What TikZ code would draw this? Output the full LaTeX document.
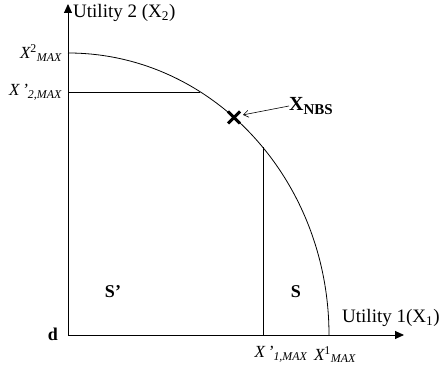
\documentclass[tikz,border=0pt]{standalone}
\usepackage{fontspec}
\setmainfont{Liberation Serif}
\usetikzlibrary{arrows.meta,calc}
\tikzset{
  axis/.style={line width=0.9pt,-{Triangle[length=9pt,width=8pt]}},
  thin line/.style={line width=0.8pt},
  lbl/.style={inner sep=0pt,font=\fontsize{19}{21}\selectfont},
  mlbl/.style={inner sep=0pt,font=\fontsize{17}{19}\selectfont\itshape},
  blbl/.style={inner sep=0pt,font=\fontsize{18}{20}\selectfont\bfseries},
  crossmark/.style={line width=3pt},
}
\begin{document}
\begin{tikzpicture}[x=1pt,y=1pt]
\useasboundingbox (0,0) rectangle (439,371);
% key points
\coordinate (O) at (68,36);
\coordinate (ytop) at (68,367);
\coordinate (xend) at (404,36);
\coordinate (ymax) at (68,318);
\coordinate (xmax) at (329,36);
\coordinate (y2) at (68,279);
\coordinate (y2c) at (200.4,279);
\coordinate (x1) at (263,36);
\coordinate (x1c) at (263,223.5);
\coordinate (nbs) at (234,253.6);
% axes
\draw[axis] (O) -- (ytop);
\draw[axis] (O) -- (xend);
% frontier
\draw[thin line] (ymax) arc[start angle=90,end angle=0,x radius=261,y radius=282];
% auxiliary lines
\draw[thin line] (y2) -- (y2c);
\draw[thin line] (x1) -- (x1c);
% NBS cross
\draw[crossmark] ($(nbs)+(-6,-6)$) -- ($(nbs)+(6,6)$);
\draw[crossmark] ($(nbs)+(-6,6)$) -- ($(nbs)+(6,-6)$);
% labels
\node[lbl,anchor=west] (uy) at (73,358) {Utility 2 (X\textsubscript{2})};
\node[lbl,anchor=west] (ux) at (342,53) {Utility 1(X\textsubscript{1})};
\node[mlbl,anchor=east] (lymax) at (62,318) {X\textsuperscript{\upshape 2}\textsubscript{MAX}};
\node[mlbl,anchor=east] (ly2) at (62,279) {X\,\textquoteright\textsubscript{2,MAX}};
\node[mlbl,anchor=north] (lx1) at (281,25) {X\,\textquoteright\textsubscript{1,MAX}};
\node[mlbl,anchor=north] (lxmax) at (335,25) {X\textsuperscript{\upshape 1}\textsubscript{MAX}};
\node[blbl] (d) at (53,37) {d};
\node[blbl] (sp) at (113,79) {S\textquoteright};
\node[blbl] (s) at (296,79) {S};
\node[blbl,anchor=west] (lnbs) at (289,265) {{\fontsize{20}{22}\selectfont X}\raisebox{-4pt}{\fontsize{15}{16}\selectfont NBS}};
\draw[-{Straight Barb[length=5pt,width=7pt]},line width=0.6pt] (lnbs.west) -- ($(nbs)+(9,2.5)$);
\end{tikzpicture}
\end{document}
